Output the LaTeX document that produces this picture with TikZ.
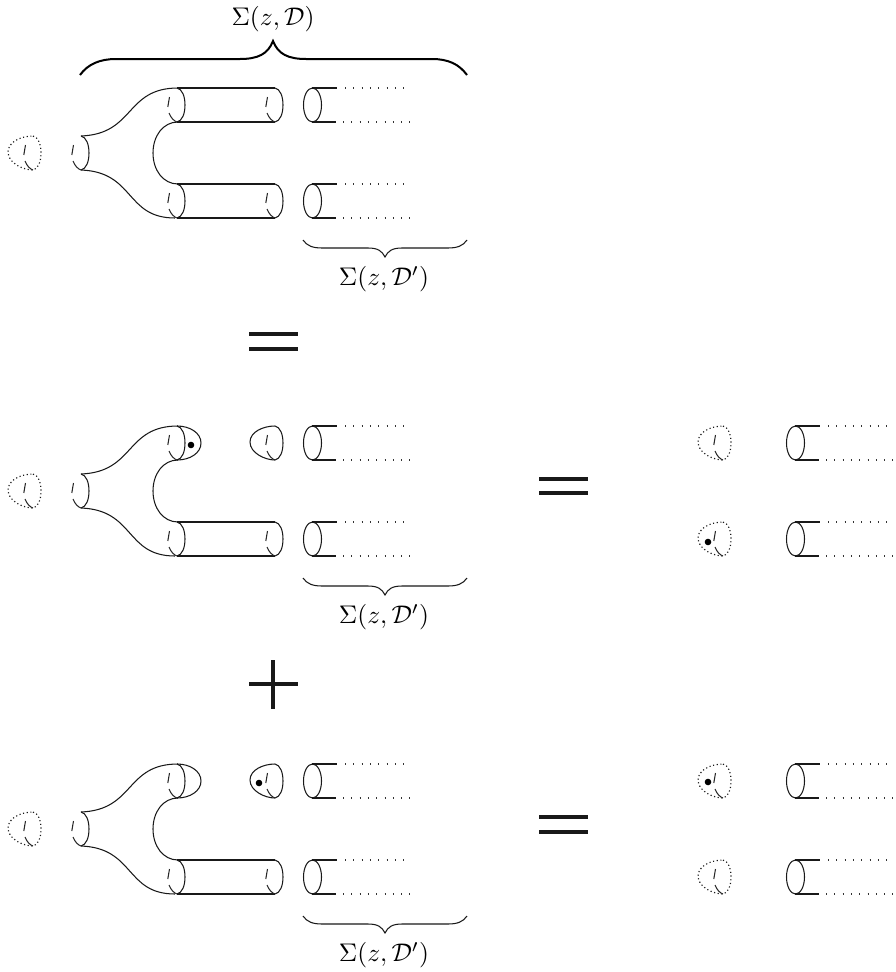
\documentclass[tikz,border=0pt]{standalone}
\tikzset{
  line/.style={line width=1.05pt, black!90},
  backline/.style={line width=1.05pt, black!85},
  dotline/.style={line width=1.1pt, dash pattern=on 1.1pt off 7.2pt, black!80},
  dotcap/.style={line width=1.15pt, dash pattern=on 1.15pt off 2.55pt, black!90},
  bigsign/.style={line width=3.2pt, black!90},
  lbl/.style={scale=2.55, inner sep=0pt},
  dotmark/.style={fill=black},
  backs/.pic={
    \draw[backline] (-7.5,9) -- (-9.2,19);
    \draw[backline] (-8,25) .. controls (-6,30) and (-3,33) .. (0,34);
  },
  ring/.pic={
    \draw[line] (0,0) .. controls (5,1) and (8,8) .. (8,17) .. controls (8,26) and (5,33) .. (0,34);
    \pic {backs};
  },
  egg/.pic={
    \draw[line] (0,0) .. controls (5,1) and (8,8) .. (8,17) .. controls (8,26) and (5,33) .. (0,34)
       .. controls (-10,34) and (-25,27) .. (-25,16) .. controls (-25,6) and (-12,0) .. (0,0) -- cycle;
    \pic {backs};
  },
  dottedegg/.pic={
    \draw[dotcap] (0,0) .. controls (5,1) and (8,8) .. (8,17) .. controls (8,26) and (5,33) .. (0,34)
       .. controls (-10,34) and (-25,27) .. (-25,16) .. controls (-25,6) and (-12,0) .. (0,0);
    \pic {backs};
  },
  tailtube/.pic={
    \draw[line] (0.5,17) ellipse [x radius=9, y radius=17];
    \draw[line] (0,0) -- (25,0);
    \draw[line] (0,34) -- (24,34);
    \draw[dotline] (33,0) -- (92,0);
    \draw[dotline] (31,34) -- (98,34);
  },
  fork/.pic={
    \draw[line] (81,48) .. controls (135,46) and (125,0) .. (178,0);
    \draw[line] (81,82) .. controls (135,84) and (125,130) .. (175,130);
    \draw[line] (178,34) .. controls (163,34) and (153,48) .. (153,65) .. controls (153,82) and (163,96) .. (178,96);
    \pic at (81,48) {ring};
    \pic at (177,0) {ring};
    \pic at (177,96) {ring};
  },
  tube/.pic={
    \draw[line] (0,0) -- (98,0);
    \draw[line] (0,34) -- (98,34);
    \pic at (98,0) {ring};
  },
  bracelow/.pic={
    \draw[line] (303,240) .. controls (307,246) and (313,248) .. (322,248) -- (368,248)
       .. controls (378,248) and (382,251) .. (385,257) .. controls (388,251) and (392,248) .. (402,248)
       -- (448,248) .. controls (457,248) and (463,246) .. (467,240);
  }
}
\begin{document}
\begin{tikzpicture}[x=1pt,y=-1pt]
\useasboundingbox (0,0) rectangle (896,972);
% row 1
\draw[line width=2pt] (80,75) .. controls (88,64) and (100,59) .. (116,59) -- (240,59)
   .. controls (258,59) and (268,54) .. (273,41) .. controls (278,54) and (288,59) .. (306,59)
   -- (432,59) .. controls (448,59) and (459,64) .. (467,75);
\node[lbl] (topsigma) at (273,19) {$\Sigma(z,\mathcal{D})$};
\pic at (33,136) {dottedegg};
\pic at (0,88) {fork};
\pic at (177,88) {tube};
\pic at (177,184) {tube};
\pic at (312,88) {tailtube};
\pic at (312,184) {tailtube};
\pic at (0,0) {bracelow};
\node[lbl] (sigmaA) at (384,279) {$\Sigma(z,\mathcal{D}')$};
\draw[bigsign] (249,334) -- (298,334) (249,349) -- (298,349);
% row 2
\pic at (33,474) {dottedegg};
\pic at (0,426) {fork};
\draw[line] (177,426) .. controls (190,426) and (201,433) .. (201,443) .. controls (201,453) and (190,460) .. (177,460);
\pic at (177,522) {tube};
\pic at (275,426) {egg};
\fill[dotmark] (191,445) circle (3.3);
\pic at (312,426) {tailtube};
\pic at (312,522) {tailtube};
\pic at (0,338) {bracelow};
\node[lbl] (sigmaB) at (384,617) {$\Sigma(z,\mathcal{D}')$};
\draw[bigsign] (539,479) -- (588,479) (539,493) -- (588,493);
\pic at (723,426) {dottedegg};
\pic at (723,522) {dottedegg};
\fill[dotmark] (708,542) circle (3.3);
\pic at (795,426) {tailtube};
\pic at (795,522) {tailtube};
% plus
\draw[bigsign] (249,684) -- (298,684) (273,660) -- (273,709);
% row 3
\pic at (33,812) {dottedegg};
\pic at (0,764) {fork};
\draw[line] (177,764) .. controls (190,764) and (201,771) .. (201,781) .. controls (201,791) and (190,798) .. (177,798);
\pic at (177,860) {tube};
\pic at (275,764) {egg};
\fill[dotmark] (259,783) circle (3.3);
\pic at (312,764) {tailtube};
\pic at (312,860) {tailtube};
\pic at (0,676) {bracelow};
\node[lbl] (sigmaC) at (384,955) {$\Sigma(z,\mathcal{D}')$};
\draw[bigsign] (539,817) -- (588,817) (539,832) -- (588,832);
\pic at (723,764) {dottedegg};
\fill[dotmark] (708,782) circle (3.3);
\pic at (723,860) {dottedegg};
\pic at (795,764) {tailtube};
\pic at (795,860) {tailtube};
\end{tikzpicture}
\end{document}
